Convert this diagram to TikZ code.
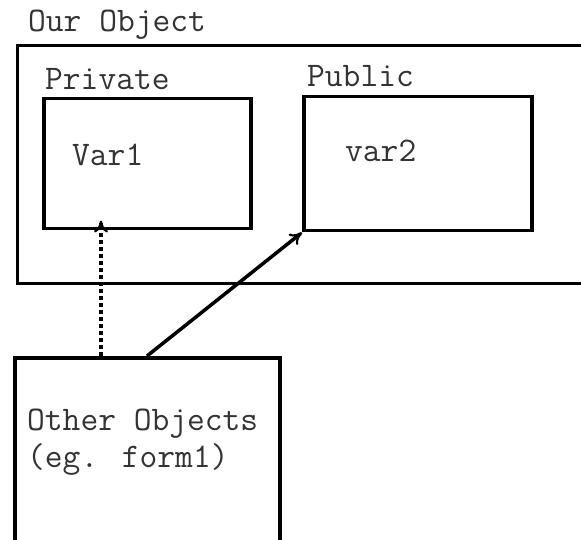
\documentclass[tikz,border=0pt]{standalone}
\usepackage{fontspec}
\usetikzlibrary{arrows.meta,calc}
\begin{document}
\begin{tikzpicture}[x=1pt,y=-1pt,
  box/.style={draw=black, line width=3.5pt, anchor=north west, inner sep=0pt},
  outerbox/.style={draw=black, line width=3pt, anchor=north west, inner sep=0pt},
  lbl/.style={anchor=base west, inner sep=0pt, text=black!80,
    font=\ttfamily\fontsize{34.5}{38}\selectfont},
  link/.style={line width=3.5pt, -{To[length=12pt,width=14pt,line width=2.2pt]}}]
  \useasboundingbox (0,0) rectangle (581,540);
  \clip (0,0) rectangle (581,540);

  % enclosing object, running off the right edge
  \node[outerbox, minimum width=600pt, minimum height=238pt] (obj) at (16,44) {};
  \node[lbl] (objlbl) at (28,32) {Our Object};

  % private and public parts
  \node[box, minimum width=207pt, minimum height=130pt] (priv) at (42,97) {};
  \node[lbl] (privlbl) at (45,90) {Private};
  \node[lbl] (var1) at (72,166) {Var1};

  \node[box, minimum width=228pt, minimum height=134pt] (pub) at (302,95) {};
  \node[lbl] (publbl) at (307,87) {Public};
  \node[lbl] (var2) at (345,162) {var2};

  % outside caller, running off the bottom edge
  \node[box, minimum width=265pt, minimum height=200pt] (other) at (13,356) {};
  \node[lbl] (otherlbl) at (27,430) {Other Objects};
  \node[lbl] (otherlbl2) at (27,467) {(eg. form1)};

  % access attempts
  \coordinate (dotfrom) at ($(other.north west)+(88,0)$);
  \coordinate (dotto) at ($(priv.south west)+(59,-10)$);
  \draw[link, dash pattern=on 4pt off 3pt] (dotfrom) -- (dotto);
  \coordinate (solfrom) at ($(other.north west)+(134,0)$);
  \draw[link] (solfrom) -- (pub.south west);
\end{tikzpicture}
\end{document}
